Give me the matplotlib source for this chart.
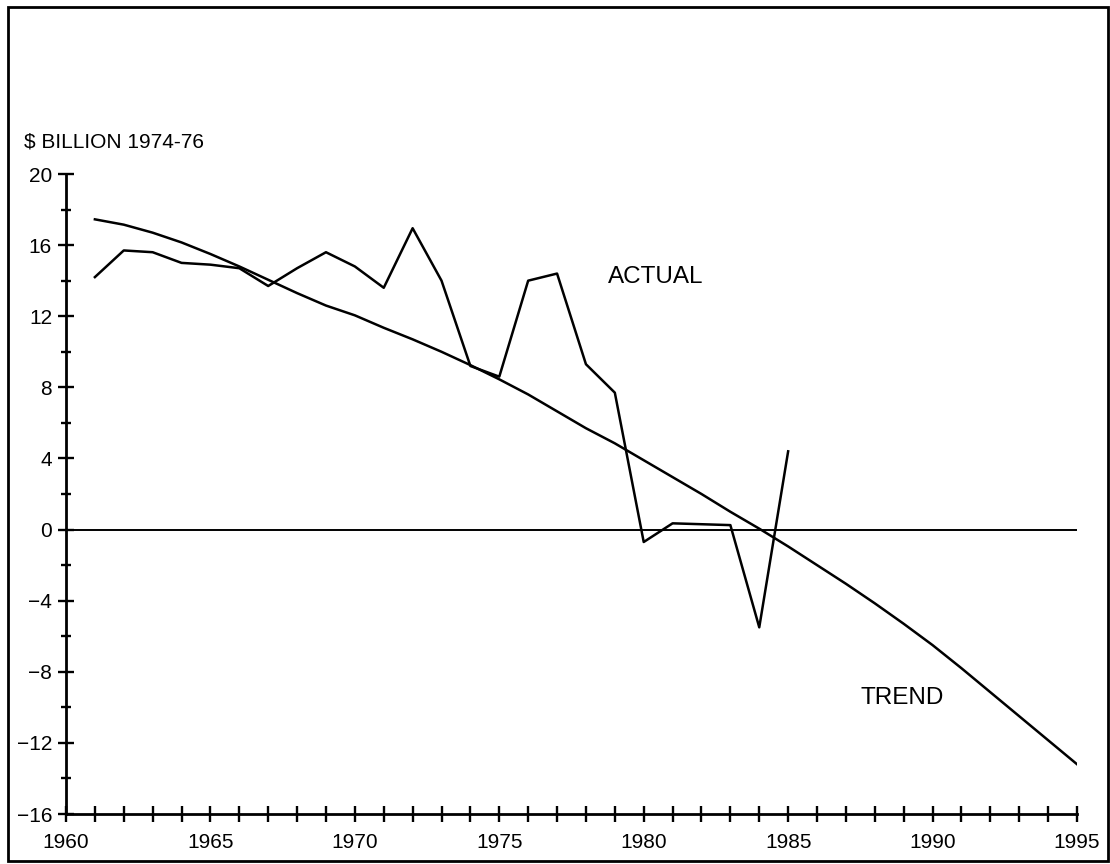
import matplotlib
matplotlib.use("Agg")
import matplotlib.pyplot as plt
from matplotlib.patches import Rectangle
import numpy as np

plt.rcParams["font.family"] = ["Liberation Sans", "DejaVu Sans"]

# Werte
years_actual = np.arange(1961, 1986)
actual = [14.2, 15.7, 15.6, 15.0, 14.9, 14.7, 13.7, 14.7, 15.6, 14.8, 13.6, 16.95,
          14.0, 9.2, 8.6, 14.0, 14.4, 9.3, 7.7, -0.7, 0.35, 0.3, 0.25, -5.5, 4.4]

years_trend = np.arange(1961, 1996)
trend = [17.45, 17.15, 16.7, 16.15, 15.5, 14.8, 14.05, 13.3, 12.6, 12.05, 11.35,
         10.7, 10.0, 9.25, 8.45, 7.6, 6.65, 5.7, 4.85, 3.9, 2.95, 2.0, 1.0, 0.05,
         -0.95, -2.0, -3.05, -4.15, -5.3, -6.5, -7.8, -9.15, -10.5, -11.85, -13.2]

x_labels = {1960: "1960", 1965: "1965", 1970: "1970", 1975: "1975",
            1980: "1980", 1985: "1985", 1990: "1990", 1995: "1995"}

fig = plt.figure(figsize=(11.1, 8.64), dpi=100)
ax = fig.add_axes([66 / 1110, 1 - 814 / 864, (1077 - 66) / 1110, (814 - 174) / 864])

ax.plot(years_trend, trend, color="black", lw=1.8)
ax.plot(years_actual, actual, color="black", lw=1.8)
ax.plot([1960, 1995], [0, 0], color="black", lw=1.4)

ax.set_xlim(1960, 1995)
ax.set_ylim(-16, 20)
for s in ["top", "right"]:
    ax.spines[s].set_visible(False)
for s in ["left", "bottom"]:
    ax.spines[s].set_linewidth(2)

xt = np.arange(1960, 1996)
ax.set_xticks(xt)
ax.set_xticklabels([x_labels.get(int(y), "") for y in xt])
ax.set_yticks(np.arange(-16, 21, 4))
ax.set_yticks(np.arange(-14, 20, 4), minor=True)
ax.tick_params(axis="x", direction="inout", length=12, width=1.7, labelsize=15, pad=8)
ax.tick_params(axis="y", which="major", direction="inout", length=12, width=1.7,
               labelsize=15, pad=4)
ax.tick_params(axis="y", which="minor", direction="inout", length=7, width=1.7)

fig.text(24 / 1110, 1 - 142 / 864, "$ BILLION 1974-76", fontsize=15,
         ha="left", va="center")
ax.text(1978.75, 14.2, "ACTUAL", fontsize=17.5, ha="left", va="center")
ax.text(1987.5, -9.5, "TREND", fontsize=17.5, ha="left", va="center")

fig.patches.append(Rectangle((8 / 1110, 1 - 861 / 864), 1100 / 1110, 854 / 864,
                             transform=fig.transFigure, fill=False,
                             edgecolor="black", lw=2))

fig.savefig("out.png", dpi=100)
